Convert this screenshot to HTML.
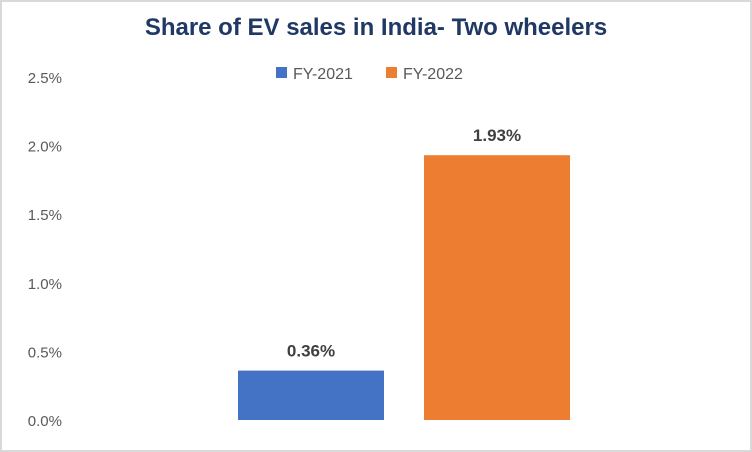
<!DOCTYPE html>
<html><head><meta charset="utf-8"><style>
html,body{margin:0;padding:0;background:#fff;}
svg{display:block;font-family:"Liberation Sans",sans-serif;}
</style></head><body>
<svg id="chart" width="752" height="452">
<rect x="1" y="1" width="750" height="450" fill="#fff" stroke="#d9d9d9" stroke-width="2"/>
<text x="376" y="35" text-anchor="middle" font-size="24" font-weight="bold" fill="#203864">Share of EV sales in India- Two wheelers</text>
<g>
<rect x="276" y="67" width="11" height="11" fill="#4472c4"/>
<text x="293" y="79" font-size="16" fill="#595959">FY-2021</text>
<rect x="386" y="67" width="11" height="11" fill="#ed7d31"/>
<text x="403" y="79" font-size="16" fill="#595959">FY-2022</text>
</g>
<g id="yaxis"></g>
<g id="bars"></g>
</svg>
<script>
const categories = ["FY-2021", "FY-2022"];
const values = [0.36, 1.93];
const tickValues = [0, 0.5, 1.0, 1.5, 2.0, 2.5];
const tickLabels = ["0.0%", "0.5%", "1.0%", "1.5%", "2.0%", "2.5%"];
const colors = ["#4472c4", "#ed7d31"];
const NS = "http://www.w3.org/2000/svg";
const y0 = 420, yTop = 77, maxV = 2.5;
function y(v){ return y0 - (v / maxV) * (y0 - yTop); }
function x(i){ return 238 + i * 186; }
const bw = 146;
const ya = document.getElementById("yaxis");
tickValues.forEach((t, i) => {
  const tx = document.createElementNS(NS, "text");
  tx.setAttribute("x", 62); tx.setAttribute("y", y(t) + 6);
  tx.setAttribute("text-anchor", "end"); tx.setAttribute("font-size", "15"); tx.setAttribute("fill", "#595959");
  tx.textContent = tickLabels[i];
  
  
  ya.appendChild(tx);
});
const bg = document.getElementById("bars");
values.forEach((v, i) => {
  const r = document.createElementNS(NS, "rect");
  r.setAttribute("x", x(i)); r.setAttribute("y", y(v));
  r.setAttribute("width", bw); r.setAttribute("height", y0 - y(v));
  r.setAttribute("fill", colors[i]);
  
  
  bg.appendChild(r);
  const t = document.createElementNS(NS, "text");
  t.setAttribute("x", x(i) + bw / 2); t.setAttribute("y", y(v) - 14);
  t.setAttribute("text-anchor", "middle"); t.setAttribute("font-size", "17");
  t.setAttribute("font-weight", "bold"); t.setAttribute("fill", "#404040");
  t.textContent = v.toFixed(2) + "%";
  
  
  bg.appendChild(t);
});
</script>
</body></html>
